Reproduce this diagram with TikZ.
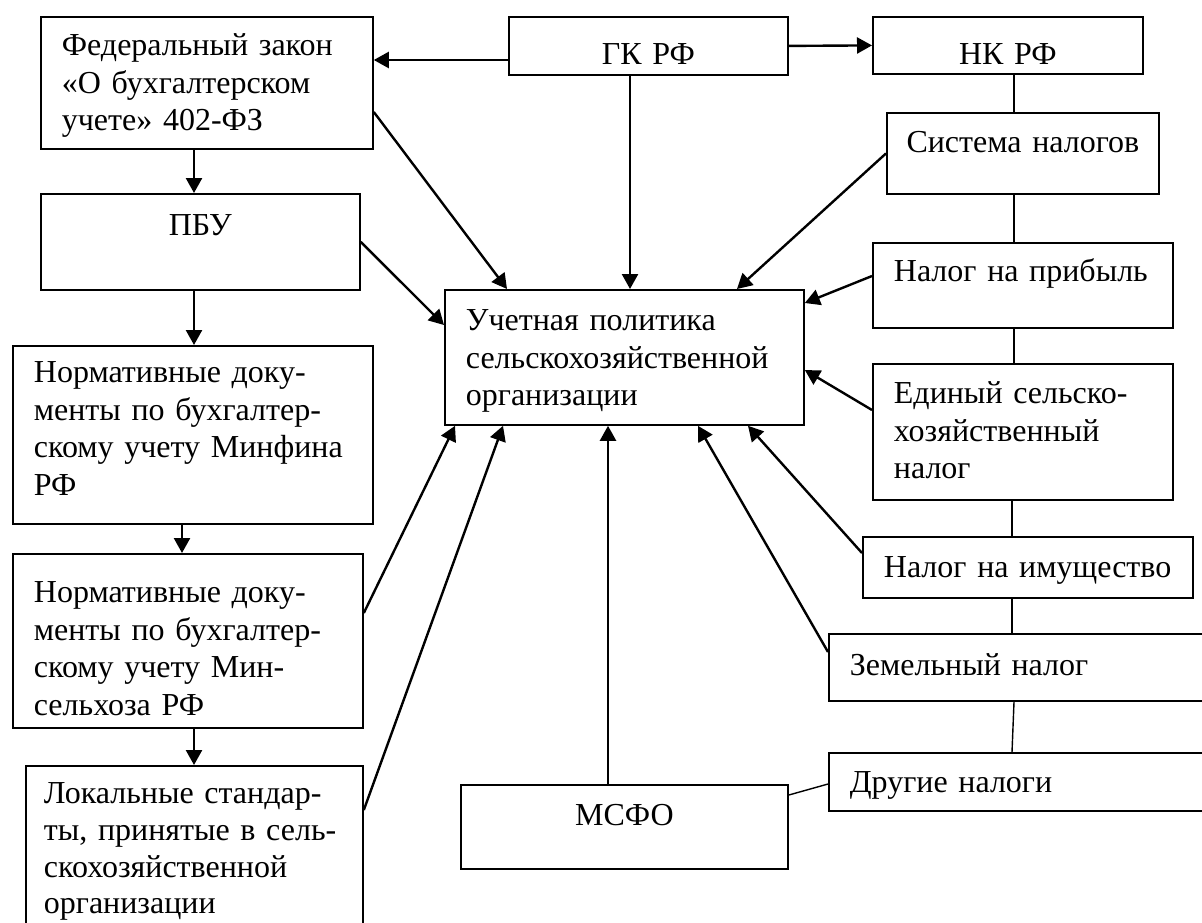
\documentclass[tikz,border=0pt]{standalone}
\usepackage{fontspec}
\setmainfont{Liberation Serif}
\usetikzlibrary{arrows.meta}

\begin{document}
\begin{tikzpicture}
  [x=0.5pt,y=-0.5pt,
  >={Triangle[length=7.5pt,width=8pt]},
  box/.style={rectangle,draw=black,line width=0.9pt,anchor=north west,inner xsep=10.5pt,inner ysep=0pt,font=\fontsize{16pt}{18.75pt}\selectfont},
  lbox/.style={box,align=left},
  cbox/.style={box,align=center},
  link/.style={line width=1.2pt},
  tie/.style={line width=0.7pt}]

\useasboundingbox (0,0) rectangle (1202,922);
\clip (0,0) rectangle (1202,922);

% left column: laws and standards
\node[lbox,text width=145pt,text height=19.5pt,text depth=46.5pt] (fz) at (40,16) {Федеральный закон\\«О бухгалтерском\\учете» 402-ФЗ};
\node[cbox,text width=138.5pt,text height=21pt,text depth=27pt] (pbu) at (40,193) {ПБУ};
\node[lbox,text width=159pt,text height=18.5pt,text depth=70.5pt] (minfin) at (12,345) {Нормативные доку-\\менты по бухгалтер-\\скому учету Минфина\\РФ};
\node[lbox,text width=154pt,text height=24.5pt,text depth=62.5pt] (minsel) at (12,553) {Нормативные доку-\\менты по бухгалтер-\\скому учету Мин-\\сельхоза РФ};
\node[lbox,inner xsep=9pt,text width=150.5pt,text height=19pt,text depth=80pt,font=\fontsize{16pt}{18.3pt}\selectfont] (local) at (25,765) {Локальные стандар-\\ты, принятые в сель-\\скохозяйственной\\организации};

% centre
\node[cbox,text width=118.5pt,text height=24pt,text depth=5pt] (gk) at (508,16) {ГК РФ};
\node[lbox,text width=158.5pt,text height=20.5pt,text depth=47pt] (up) at (444,289) {Учетная политика\\сельскохозяйственной\\организации};
\node[cbox,text width=142.5pt,text height=20.5pt,text depth=21.5pt] (msfo) at (460,784) {МСФО};

% right column: taxes
\node[cbox,text width=114pt,text height=24pt,text depth=4.5pt] (nk) at (872,16) {НК РФ};
\node[cbox,inner xsep=3pt,text width=130pt,text height=20pt,text depth=20.5pt] (sys) at (886,112) {Система налогов};
\node[lbox,text width=129pt,text height=19.5pt,text depth=23pt] (profit) at (872,242) {Налог на прибыль};
\node[lbox,text width=129pt,text height=20pt,text depth=48pt] (esn) at (872,363) {Единый сельско-\\хозяйственный\\налог};
\node[lbox,text width=144pt,text height=20.5pt,text depth=10pt] (property) at (862,536) {Налог на имущество};
\node[lbox,text width=174pt,text height=21pt,text depth=12.5pt] (land) at (828,633) {Земельный налог};
\node[lbox,text width=174pt,text height=20pt,text depth=9pt] (other) at (828,752) {Другие налоги};

% arrows into the accounting policy
\draw [link,->] (gk.west |- 0,60) -- (fz.east |- 0,60);
\draw [link,->] (gk.east) -- (nk.west);
\draw [link,->] (gk.south -| 630,0) -- (up.north -| 630,0);
\draw [link,->] (fz.east |- 0,112) -- (up.north -| 507,0);
\draw [link,->] (pbu.east) -- (up.west |- 0,325);
\draw [link,->] (sys.west) -- (up.north -| 737,0);
\draw [link,->] (profit.west |- 0,276) -- (up.east |- 0,303);
\draw [link,->] (esn.west |- 0,410) -- (up.east |- 0,370);
\draw [link,->] (property.west |- 0,553) -- (up.south -| 748,0);
\draw [link,->] (land.west |- 0,652) -- (up.south -| 698,0);
\draw [link,->] (msfo.north -| 608,0) -- (up.south -| 608,0);
\draw [link,->] (minsel.east |- 0,613) -- (up.south -| 455,0);
\draw [link,->] (local.east |- 0,810) -- (up.south -| 503,0);

% left column chain
\draw [link,->] (fz.south -| 194,0) -- (pbu.north -| 194,0);
\draw [link,->] (pbu.south -| 194,0) -- (minfin.north -| 194,0);
\draw [link,->] (minfin.south -| 182,0) -- (minsel.north -| 182,0);
\draw [link,->] (minsel.south -| 194,0) -- (local.north -| 194,0);

% tax chain
\draw [tie] (nk.south -| 1014,0) -- (sys.north -| 1014,0);
\draw [tie] (sys.south -| 1014,0) -- (profit.north -| 1014,0);
\draw [tie] (profit.south -| 1014,0) -- (esn.north -| 1014,0);
\draw [tie] (esn.south -| 1012,0) -- (property.north -| 1012,0);
\draw [tie] (property.south -| 1012,0) -- (land.north -| 1012,0);
\draw [tie] (land.south -| 1014,0) -- (other.north -| 1012,0);
\draw [tie] (msfo.east |- 0,795) -- (other.west |- 0,784);

\end{tikzpicture}
\end{document}
